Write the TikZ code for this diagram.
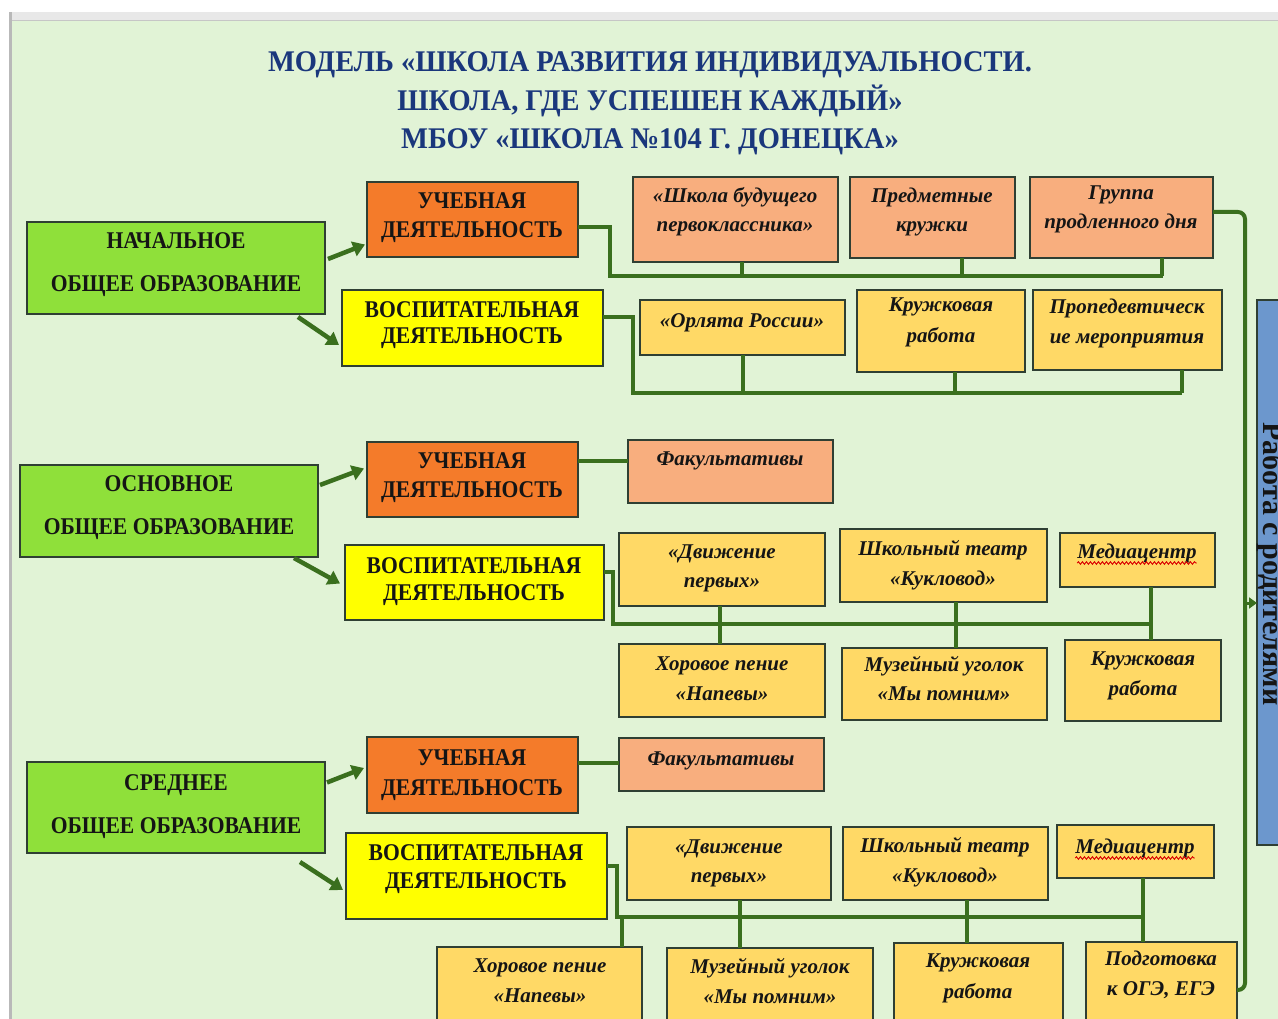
\documentclass[tikz,border=0pt]{standalone}
\usepackage{fontspec}
\setmainfont{Liberation Serif}
\newfontfamily\hfont[FakeStretch=0.9]{Liberation Serif}
\newfontfamily\tfont[FakeStretch=0.95]{Liberation Serif}
\usetikzlibrary{arrows.meta,decorations.pathmorphing,calc}
\definecolor{cbg}{HTML}{E1F3D6}
\definecolor{cgreen}{HTML}{8FE03A}
\definecolor{corange}{HTML}{F47B2A}
\definecolor{cyellow}{HTML}{FFFF00}
\definecolor{csalmon}{HTML}{F8AE7E}
\definecolor{cpale}{HTML}{FFD966}
\definecolor{cblue}{HTML}{6C97CD}
\definecolor{ctitle}{HTML}{1A377C}
\definecolor{cconn}{HTML}{3A6F1E}
\definecolor{cboxline}{HTML}{2F3F33}
\definecolor{ctxt}{HTML}{151515}
\newcommand\myhdr{\hfont\bfseries\fontsize{24}{24}\selectfont}
\newcommand\myit{\rmfamily\bfseries\itshape\fontsize{21}{21}\selectfont}
\newcommand\mytitle{\tfont\bfseries\fontsize{30}{30}\selectfont}
\tikzset{
  box/.style={draw=cboxline, line width=1.6pt, inner sep=0pt, outer sep=0pt},
  conn/.style={draw=cconn, line width=4pt},
  arr/.style={draw=cconn, line width=4.5pt, -{Triangle[length=12pt,width=15pt]}},
  lbl/.style={anchor=base, inner sep=0pt, text=ctxt},
}
% box: name, x1, y1, x2, y2, fill
\newcommand\bx[6]{\node[box,fill=#6,minimum width={(#4)-(#2)},minimum height={(#5)-(#3)}] (#1) at ({((#2)+(#4))/2},{((#3)+(#5))/2}) {};}
% text: name, x, baseline y, font, text
\newcommand\tx[5]{\node[lbl,font=#4] (#1) at (#2,#3) {#5};}
% drop from box bottom to a bus coordinate: node, xshift, bus
\newcommand\drop[3]{\coordinate (#1d) at ([xshift=#2pt]#1.south); \draw[conn] (#1d) -- (#1d |- #3);}
% vertical link from upper box to lower box: upper, xshift, lower
\newcommand\vlink[3]{\coordinate (#1v) at ([xshift=#2pt]#1.south); \draw[conn] (#1v) -- (#1v |- #3.north);}
\begin{document}
\begin{tikzpicture}[x=1pt,y=-1pt]
\useasboundingbox (0,0) rectangle (1278,1019);
\clip (0,0) rectangle (1278,1019);
\fill[white] (0,0) rectangle (1278,1019);
\fill[cbg] (12,20) rectangle (1278,1019);
\fill[gray!18] (12,12) rectangle (1278,20);
\draw[gray!45, line width=0.8pt] (12,20) -- (1278,20);
\fill[gray!55] (9,12) rectangle (12,1019);

% ---------- title ----------
\node[lbl, font=\mytitle, text=ctitle] (T1) at (650,72) {МОДЕЛЬ «ШКОЛА РАЗВИТИЯ ИНДИВИДУАЛЬНОСТИ.};
\node[lbl, font=\mytitle, text=ctitle] (T2) at (650,111) {ШКОЛА, ГДЕ УСПЕШЕН КАЖДЫЙ»};
\node[lbl, font=\mytitle, text=ctitle] (T3) at (650,149) {МБОУ «ШКОЛА №104 Г. ДОНЕЦКА»};

% ---------- section 1 ----------
\bx{N1}{27}{222}{325}{314}{cgreen}
\tx{N1a}{176}{249}{\myhdr}{НАЧАЛЬНОЕ}
\tx{N1b}{176}{292}{\myhdr}{ОБЩЕЕ ОБРАЗОВАНИЕ}
\bx{U1}{367}{182}{578}{257}{corange}
\tx{U1a}{472}{209}{\myhdr}{УЧЕБНАЯ}
\tx{U1b}{472}{238}{\myhdr}{ДЕЯТЕЛЬНОСТЬ}
\bx{V1}{342}{290}{603}{366}{cyellow}
\tx{V1a}{472}{317}{\myhdr}{ВОСПИТАТЕЛЬНАЯ}
\tx{V1b}{472}{344}{\myhdr}{ДЕЯТЕЛЬНОСТЬ}
\draw[arr] ([xshift=3pt,yshift=9pt]N1.east) -- ([xshift=-2pt,yshift=-25pt]U1.west);
\draw[arr] ([xshift=-27pt,yshift=-3pt]N1.south east) -- ([xshift=-3pt,yshift=-17pt]V1.west);

\bx{A}{633}{177}{838}{262}{csalmon}
\tx{Aa}{735}{203}{\myit}{«Школа будущего}
\tx{Ab}{735}{232}{\myit}{первоклассника»}
\bx{B}{850}{177}{1015}{258}{csalmon}
\tx{Ba}{932}{203}{\myit}{Предметные}
\tx{Bb}{932}{232}{\myit}{кружки}
\bx{C}{1030}{177}{1213}{258}{csalmon}
\tx{Ca}{1121}{200}{\myit}{Группа}
\tx{Cb}{1121}{229}{\myit}{продленного дня}
\coordinate (b1) at (610,276);
\coordinate (Ce) at ([xshift=41pt]C.south);
\draw[conn] ([yshift=-7.5pt]U1.east) -| (b1) -- (Ce |- b1);
\drop{A}{6}{b1}
\drop{B}{29.5}{b1}
\drop{C}{40.5}{b1}

\bx{D}{640}{300}{845}{355}{cpale}
\tx{Da}{742}{327}{\myit}{«Орлята России»}
\bx{E}{857}{290}{1025}{372}{cpale}
\tx{Ea}{941}{312}{\myit}{Кружковая}
\tx{Eb}{941}{342}{\myit}{работа}
\bx{F}{1033}{290}{1222}{370}{cpale}
\tx{Fa}{1127}{313}{\myit}{Пропедевтическ}
\tx{Fb}{1127}{343}{\myit}{ие мероприятия}
\coordinate (b2) at (633,393);
\coordinate (Fe) at ([xshift=54.5pt]F.south);
\draw[conn] ([yshift=11pt]V1.east) -| (b2) -- (Fe |- b2);
\drop{D}{0}{b2}
\drop{E}{14}{b2}
\drop{F}{54.5}{b2}

% ---------- section 2 ----------
\bx{N2}{20}{465}{318}{557}{cgreen}
\tx{N2a}{169}{491}{\myhdr}{ОСНОВНОЕ}
\tx{N2b}{169}{534}{\myhdr}{ОБЩЕЕ ОБРАЗОВАНИЕ}
\bx{U2}{367}{442}{578}{517}{corange}
\tx{U2a}{472}{468}{\myhdr}{УЧЕБНАЯ}
\tx{U2b}{472}{497}{\myhdr}{ДЕЯТЕЛЬНОСТЬ}
\bx{V2}{345}{545}{604}{620}{cyellow}
\tx{V2a}{474}{573}{\myhdr}{ВОСПИТАТЕЛЬНАЯ}
\tx{V2b}{474}{600}{\myhdr}{ДЕЯТЕЛЬНОСТЬ}
\draw[arr] ([xshift=2pt,yshift=26pt]N2.east) -- ([xshift=-3pt,yshift=11pt]U2.west);
\draw[arr] ([xshift=-24pt,yshift=-1pt]N2.south east) -- ([xshift=-5pt,yshift=-1pt]V2.west);

\bx{F2}{628}{440}{833}{503}{csalmon}
\tx{F2a}{730}{465}{\myit}{Факультативы}
\coordinate (U2e) at ([yshift=18.5pt]U2.east);
\draw[conn] (U2e) -- (U2e -| F2.west);

\bx{G2}{619}{533}{825}{606}{cpale}
\tx{G2a}{722}{558}{\myit}{«Движение}
\tx{G2b}{722}{587}{\myit}{первых»}
\bx{H2}{840}{529}{1047}{602}{cpale}
\tx{H2a}{943}{555}{\myit}{Школьный театр}
\tx{H2b}{943}{585}{\myit}{«Кукловод»}
\bx{I2}{1060}{533}{1215}{587}{cpale}
\tx{I2a}{1137}{558}{\myit}{Медиацентр}
\draw[red!85!black, line width=0.9pt, decorate, decoration={snake, amplitude=1.3pt, segment length=4pt}] ([yshift=-5pt]I2a.base west) -- ([yshift=-5pt]I2a.base east);
\bx{J2}{619}{644}{825}{717}{cpale}
\tx{J2a}{722}{670}{\myit}{Хоровое пение}
\tx{J2b}{722}{700}{\myit}{«Напевы»}
\bx{K2}{842}{648}{1047}{720}{cpale}
\tx{K2a}{944}{671}{\myit}{Музейный уголок}
\tx{K2b}{944}{700}{\myit}{«Мы помним»}
\bx{L2}{1065}{640}{1221}{721}{cpale}
\tx{L2a}{1143}{665}{\myit}{Кружковая}
\tx{L2b}{1143}{695}{\myit}{работа}
\coordinate (b3) at (613,624);
\coordinate (I2e) at ([xshift=13.5pt]I2.south);
\draw[conn] ([yshift=10.5pt]V2.east) -| (b3) -- (I2e |- b3);
\vlink{G2}{-2}{J2}
\vlink{H2}{12.5}{K2}
\vlink{I2}{13.5}{L2}

% ---------- section 3 ----------
\bx{N3}{27}{762}{325}{853}{cgreen}
\tx{N3a}{176}{790}{\myhdr}{СРЕДНЕЕ}
\tx{N3b}{176}{833}{\myhdr}{ОБЩЕЕ ОБРАЗОВАНИЕ}
\bx{U3}{367}{737}{578}{813}{corange}
\tx{U3a}{472}{765}{\myhdr}{УЧЕБНАЯ}
\tx{U3b}{472}{795}{\myhdr}{ДЕЯТЕЛЬНОСТЬ}
\bx{V3}{346}{833}{607}{919}{cyellow}
\tx{V3a}{476}{860}{\myhdr}{ВОСПИТАТЕЛЬНАЯ}
\tx{V3b}{476}{888}{\myhdr}{ДЕЯТЕЛЬНОСТЬ}
\draw[arr] ([xshift=2pt,yshift=25pt]N3.east) -- ([xshift=-3pt,yshift=7pt]U3.west);
\draw[arr] ([xshift=-25pt,yshift=-9pt]N3.south east) -- ([xshift=-3pt,yshift=-14pt]V3.west);

\bx{F3}{619}{738}{824}{791}{csalmon}
\tx{F3a}{721}{765}{\myit}{Факультативы}
\coordinate (U3e) at ([yshift=12pt]U3.east);
\draw[conn] (U3e) -- (U3e -| F3.west);

\bx{G3}{627}{827}{831}{900}{cpale}
\tx{G3a}{729}{853}{\myit}{«Движение}
\tx{G3b}{729}{882}{\myit}{первых»}
\bx{H3}{843}{827}{1048}{900}{cpale}
\tx{H3a}{945}{852}{\myit}{Школьный театр}
\tx{H3b}{945}{882}{\myit}{«Кукловод»}
\bx{I3}{1057}{825}{1214}{878}{cpale}
\tx{I3a}{1135}{853}{\myit}{Медиацентр}
\draw[red!85!black, line width=0.9pt, decorate, decoration={snake, amplitude=1.3pt, segment length=4pt}] ([yshift=-5pt]I3a.base west) -- ([yshift=-5pt]I3a.base east);
\bx{J3}{437}{947}{642}{1035}{cpale}
\tx{J3a}{540}{972}{\myit}{Хоровое пение}
\tx{J3b}{540}{1002}{\myit}{«Напевы»}
\bx{K3}{667}{948}{873}{1035}{cpale}
\tx{K3a}{770}{973}{\myit}{Музейный уголок}
\tx{K3b}{770}{1003}{\myit}{«Мы помним»}
\bx{L3}{894}{943}{1063}{1035}{cpale}
\tx{L3a}{978}{967}{\myit}{Кружковая}
\tx{L3b}{978}{998}{\myit}{работа}
\bx{M3}{1086}{942}{1237}{1035}{cpale}
\tx{M3a}{1161}{965}{\myit}{Подготовка}
\tx{M3b}{1161}{995}{\myit}{к ОГЭ, ЕГЭ}
\coordinate (b4) at (617,917);
\coordinate (I3e) at ([xshift=7.5pt]I3.south);
\draw[conn] ([yshift=10pt]V3.east) -| (b4) -- (I3e |- b4);
\coordinate (J3u) at ([xshift=82.5pt]J3.north);
\draw[conn] (J3u |- b4) -- (J3u);
\vlink{G3}{11}{K3}
\vlink{H3}{21.5}{L3}
\vlink{I3}{7.5}{M3}

% ---------- right side ----------
\bx{W}{1257}{300}{1300}{845}{cblue}
\node[lbl, rotate=-90, font=\rmfamily\bfseries\fontsize{30}{30}\selectfont] (Wt) at (1263,564) {Работа с родителями};
\coordinate (rv) at (1245,603);
\coordinate (Cr) at ([yshift=5.5pt]C.east);
\coordinate (Mr) at ([yshift=-1.5pt]M3.east);
\draw[conn, rounded corners=7pt] (Cr) -| (rv) |- (Mr);
\draw[draw=cconn, line width=3pt, -{Triangle[length=8pt,width=11pt]}] (rv) -- (rv -| W.west);
\end{tikzpicture}
\end{document}
